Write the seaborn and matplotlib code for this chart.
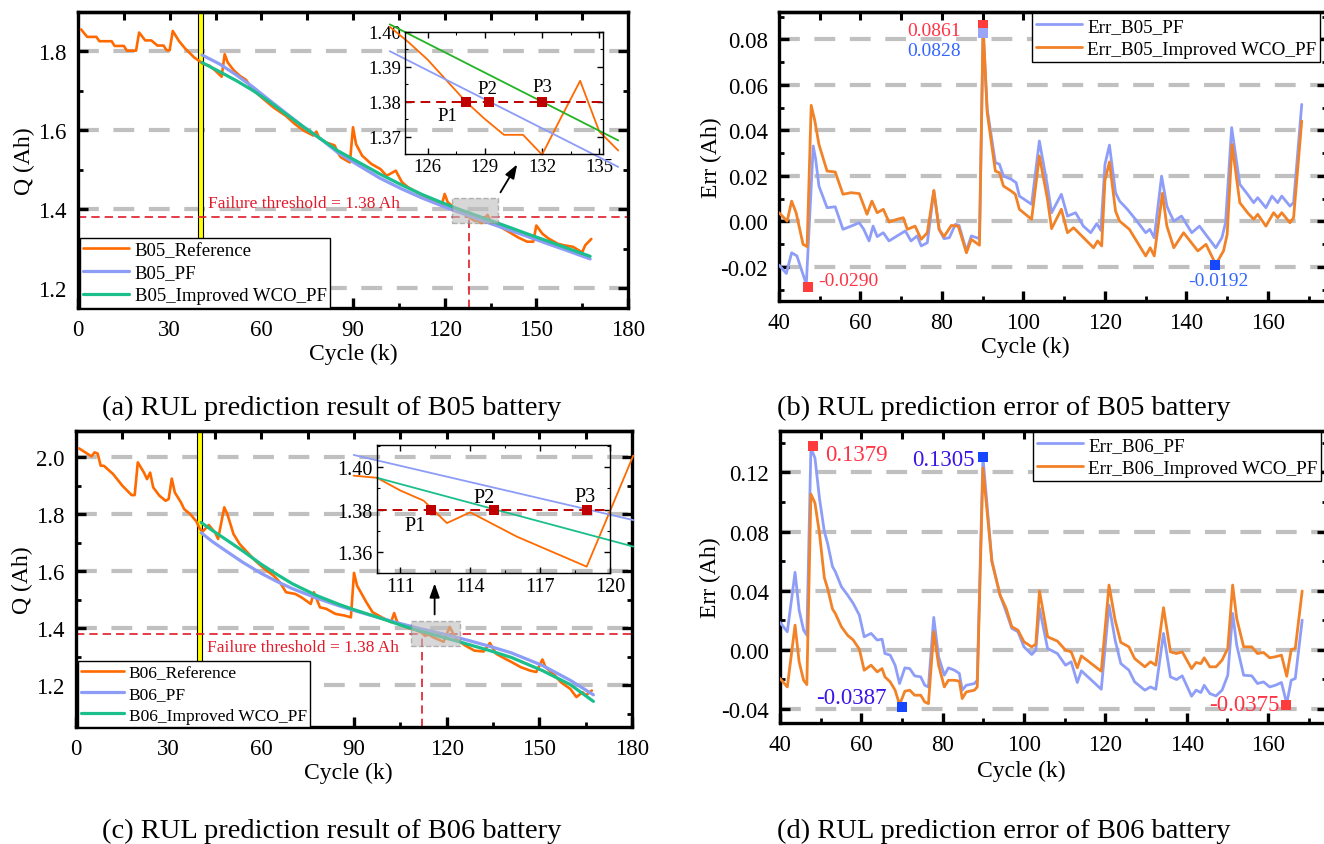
import matplotlib
matplotlib.use("Agg")
import matplotlib.pyplot as plt
import seaborn as sns
import numpy as np
from matplotlib.ticker import MultipleLocator, FormatStrFormatter, NullFormatter
from matplotlib.patches import Rectangle

sns.set_theme(style="white")
plt.rcParams['font.family'] = ['Liberation Serif', 'DejaVu Serif']
plt.rcParams['axes.unicode_minus'] = False
plt.rcParams.update({'text.color': 'black', 'axes.labelcolor': 'black',
                     'xtick.color': 'black', 'ytick.color': 'black'})

# ---------------- data ----------------
FAIL_THRESHOLD = 1.38
PREDICT_START = 40
B05_FAIL_CYCLE = 128
B06_FAIL_CYCLE = 112

# B05 capacity (Ah)
b05_ref_cycle = [1, 3, 6, 7, 11, 12, 15, 16, 19, 20, 22, 24, 26, 28, 29, 30, 31, 33, 35, 38,
                 40, 41, 43, 45, 47, 48, 49, 51, 53, 55, 57, 60, 64, 68, 71, 74, 77, 78, 79, 81,
                 84, 85, 86, 88, 89, 90, 91, 93, 96, 99, 101, 104, 106, 108, 111, 114, 117, 119, 120, 121,
                 123, 124, 125, 126, 127, 128, 129, 130, 131, 132, 133, 134, 135, 136, 139, 141, 144, 147, 149, 150,
                 152, 154, 157, 159, 162, 165, 166, 168]
b05_ref_q = [1.856, 1.837, 1.837, 1.826, 1.826, 1.814, 1.814, 1.802, 1.802, 1.848, 1.828, 1.828, 1.815, 1.815, 1.803, 1.803, 1.852, 1.827, 1.808, 1.785,
             1.774, 1.768, 1.764, 1.751, 1.736, 1.793, 1.772, 1.752, 1.738, 1.728, 1.705, 1.684, 1.658, 1.637, 1.616, 1.599, 1.587, 1.597, 1.580, 1.570,
             1.562, 1.544, 1.532, 1.523, 1.519, 1.608, 1.565, 1.536, 1.515, 1.502, 1.485, 1.498, 1.469, 1.456, 1.443, 1.431, 1.418, 1.410, 1.439, 1.418,
             1.405, 1.4015, 1.397, 1.392, 1.386, 1.380, 1.375, 1.3705, 1.3705, 1.3648, 1.3755, 1.386, 1.3715, 1.366, 1.352, 1.343, 1.329, 1.318, 1.318, 1.359,
             1.338, 1.326, 1.313, 1.309, 1.305, 1.291, 1.309, 1.325]
b05_pf_cycle = [40.6, 46.4, 51.9, 57.4, 62.9, 68.5, 74, 79.5, 85, 91.9, 98.8, 105.6, 112.5, 119.4, 124, 136, 140.1, 147, 153.9, 160.7, 167.6]
b05_pf_q = [1.791, 1.768, 1.740, 1.709, 1.675, 1.641, 1.608, 1.578, 1.544, 1.511, 1.479, 1.453, 1.429, 1.408, 1.3945, 1.3613, 1.3502, 1.3316, 1.3122, 1.2937, 1.2743]
b05_wco_cycle = [40.6, 46.4, 51.9, 57.4, 62.9, 68.5, 74, 79.5, 85, 91.9, 98.8, 105.6, 112.5, 119.4, 124, 136, 140.1, 147, 153.9, 160.7, 167.6]
b05_wco_q = [1.772, 1.7485, 1.7257, 1.7004, 1.6709, 1.6388, 1.6076, 1.5781, 1.5485, 1.519, 1.4895, 1.463, 1.438, 1.416, 1.4022, 1.3689, 1.3575, 1.338, 1.319, 1.300, 1.281]
b05_p_cycles = [128, 129.2, 132]

# B06 capacity (Ah)
b06_ref_cycle = [1, 3, 5, 6, 7, 8, 9, 12, 15, 18, 19, 20, 22, 23, 24, 25, 27, 29, 30, 31,
                 32, 34, 35, 37, 39, 40, 41, 43, 45, 46, 48, 49, 51, 53, 56, 58, 61, 64, 66, 68,
                 71, 73, 76, 77, 79, 81, 84, 87, 89, 90, 91, 94, 96, 99, 102, 103, 104, 107, 109, 110,
                 111, 112, 113, 114, 116, 119, 121, 123, 126, 129, 132, 134, 136, 138, 141, 144, 147, 149, 151, 152,
                 155, 157, 160, 162, 164, 165, 167]
b06_ref_q = [2.032, 2.018, 2.004, 2.018, 2.014, 1.971, 1.971, 1.942, 1.901, 1.868, 1.868, 1.983, 1.947, 1.924, 1.947, 1.895, 1.866, 1.848, 1.854, 1.926,
             1.877, 1.842, 1.819, 1.801, 1.775, 1.751, 1.740, 1.763, 1.737, 1.714, 1.825, 1.801, 1.731, 1.696, 1.661, 1.638, 1.609, 1.585, 1.562, 1.527,
             1.521, 1.509, 1.486, 1.527, 1.474, 1.469, 1.451, 1.445, 1.439, 1.595, 1.550, 1.492, 1.457, 1.439, 1.422, 1.454, 1.422, 1.404, 1.396, 1.395,
             1.389, 1.3842, 1.3736, 1.3787, 1.3672, 1.353, 1.4055, 1.363, 1.340, 1.322, 1.319, 1.349, 1.311, 1.299, 1.282, 1.264, 1.252, 1.247, 1.291, 1.264,
             1.235, 1.211, 1.188, 1.159, 1.176, 1.165, 1.182]
b06_pf_cycle = [40.5, 44, 48, 54, 60, 65, 70, 78, 85, 90, 98, 104, 109, 121, 127, 134, 141, 151, 160, 167.5]
b06_pf_q = [1.736, 1.706, 1.676, 1.632, 1.593, 1.565, 1.540, 1.506, 1.480, 1.463, 1.438, 1.420, 1.4058, 1.375, 1.358, 1.337, 1.314, 1.270, 1.218, 1.167]
b06_wco_cycle = [40.5, 44, 48, 54, 60, 65, 70, 78, 85, 90, 98, 104, 110, 121, 127, 134, 141, 151, 160, 167.5]
b06_wco_q = [1.772, 1.745, 1.716, 1.672, 1.625, 1.590, 1.557, 1.515, 1.485, 1.466, 1.438, 1.416, 1.395, 1.3625, 1.344, 1.322, 1.298, 1.252, 1.203, 1.144]
b06_p_cycles = [112.3, 115, 119]

# B05 prediction errors (Ah)
err_b05_pf_cycle = [40, 41.8, 43.1, 44.4, 46.7, 48.4, 49.0, 49.8, 51.8, 53.8, 55.7, 57.7, 59.7, 60.8, 62.1, 63.1, 64.1, 65.6, 67.0, 69.0,
                    71.0, 72.4, 73.9, 74.9, 76.4, 78.0, 79.3, 80.5, 81.8, 83.3, 84.2, 86.0, 87.2, 89.2, 90.1, 91.1, 93.1, 94.1, 95.1, 97.0,
                    98.2, 99.0, 102.0, 103.9, 105.9, 106.9, 109.3, 110.8, 112.8, 114.7, 116.5, 118.0, 119.0, 120.0, 121.1, 122.6, 123.6, 125.5, 127.5, 130.0,
                    131.0, 132.1, 133.9, 135.2, 135.9, 136.9, 138.8, 141.3, 143.2, 147.2, 148.7, 149.6, 151.1, 153.1, 155.0, 156.5, 157.5, 159.5, 161.0, 162.4,
                    163.4, 165.4, 166.3, 168.3]
err_b05_pf = [-0.0192, -0.0229, -0.0138, -0.0152, -0.0277, 0.0331, 0.0273, 0.0155, 0.0060, 0.0064, -0.0035, -0.0021, -0.0006, -0.0035, -0.0086, -0.0021, -0.0067, -0.0050, -0.0086, -0.0064,
              -0.0042, -0.0086, -0.0064, -0.0108, -0.0094, 0.0133, -0.0035, -0.0076, -0.0072, -0.0013, -0.0018, -0.0130, -0.0064, -0.0076, 0.0837, 0.0492, 0.0258, 0.0251, 0.0199, 0.0185,
              0.0170, 0.0111, 0.0075, 0.0353, 0.0155, 0.0038, 0.0119, 0.0023, 0.0038, -0.0021, -0.0050, -0.0010, -0.0040, 0.0250, 0.0335, 0.0126, 0.0089, 0.0053, 0.0009, -0.0050,
              -0.0035, -0.0072, 0.0199, 0.0067, 0.0038, 0.0001, 0.0023, -0.0050, -0.0021, -0.0116, -0.0072, -0.0006, 0.0412, 0.0163, 0.0119, 0.0082, 0.0104, 0.0060, 0.0111, 0.0082,
              0.0111, 0.0067, 0.0082, 0.0514]
err_b05_wco_cycle = [40, 42.0, 43.1, 44.2, 45.9, 46.9, 47.9, 48.8, 49.8, 51.8, 53.8, 55.7, 57.7, 59.7, 61.6, 62.8, 64.1, 65.6, 67.0, 69.0,
                     70.5, 71.5, 73.4, 74.9, 76.4, 78.0, 79.3, 80.5, 82.3, 84.0, 86.0, 87.2, 89.2, 90.1, 91.1, 93.1, 94.1, 95.1, 97.0, 98.0,
                     99.0, 102.0, 103.9, 105.9, 106.9, 109.3, 110.8, 112.3, 117.2, 118.2, 119.2, 120.0, 121.1, 122.6, 123.6, 126.0, 130.0, 131.1, 132.1, 134.1,
                     135.2, 136.9, 139.3, 142.8, 144.8, 147.2, 149.1, 150.0, 151.2, 153.1, 155.0, 156.5, 157.5, 159.5, 161.4, 162.4, 163.4, 165.4, 166.3, 168.3]
err_b05_wco = [0.0038, 0.0001, 0.0089, 0.0038, -0.0101, -0.0111, 0.0510, 0.0441, 0.0338, 0.0221, 0.0217, 0.0119, 0.0126, 0.0122, 0.0031, 0.0089, 0.0038, 0.0053, -0.0003, 0.0009,
               0.0016, -0.0035, -0.0021, -0.0079, -0.0050, 0.0136, -0.0035, -0.0067, -0.0018, -0.0021, -0.0138, -0.0079, -0.0105, 0.0859, 0.0478, 0.0221, 0.0214, 0.0155, 0.0133, 0.0119,
               0.0053, 0.0009, 0.0287, 0.0097, -0.0032, 0.0053, -0.0050, -0.0028, -0.0116, -0.0086, -0.0108, 0.0180, 0.0261, 0.0045, 0.0001, -0.0035, -0.0152, -0.0116, -0.0152, 0.0123,
               -0.0021, -0.0116, -0.0050, -0.0130, -0.0101, -0.0189, -0.0130, -0.0057, 0.0338, 0.0082, 0.0038, 0.0009, 0.0031, -0.0021, 0.0038, 0.0016, 0.0038, -0.0006, 0.0016, 0.0441]

# B06 prediction errors (Ah)
err_b06_cycle = [40, 41.8, 43.7, 44.7, 45.8, 46.6, 47.6, 48.6, 49.7, 50.9, 51.7, 52.9, 53.6, 55.1, 56.6, 58, 59.5, 60.7, 62.4, 63.9,
                 65.1, 65.8, 67.1, 68.3, 69.4, 70.7, 71.9, 73.1, 74.6, 75.6, 76.5, 77.8, 79, 80.4, 81.4, 82.9, 84.1, 84.8, 85.8, 87.8,
                 88.5, 89.9, 92.1, 94.1, 95.6, 97, 98.5, 100, 101.9, 102.9, 103.8, 105.8, 108.2, 110.2, 111.6, 113.1, 114.1, 119, 120.9, 122.4,
                 123.8, 125.8, 127.2, 129.7, 131.1, 132.4, 134.3, 136, 137.5, 138.9, 141.2, 142.3, 143.5, 144.3, 145.7, 147.2, 148.7, 150.1, 151.3, 152.3,
                 154, 156, 157.4, 158.9, 160.4, 161.8, 163.3, 164.6, 165.7, 166.7, 168.4]
err_b06_pf = [0.0185, 0.0122, 0.0524, 0.0269, 0.0133, 0.0099, 0.1365, 0.1297, 0.1026, 0.0800, 0.0721, 0.0563, 0.0529, 0.0427, 0.0371, 0.0314, 0.0235, 0.0088, 0.0111, 0.0066,
              0.0072, -0.0025, -0.0036, -0.0104, -0.0228, -0.0122, -0.0127, -0.0176, -0.0183, -0.0240, -0.0251, 0.0219, -0.0047, -0.0172, -0.0122, -0.0138, -0.0160, -0.0273, -0.0240, -0.0228,
              -0.0206, 0.1302, 0.0601, 0.0371, 0.0258, 0.0145, 0.0122, 0.0020, -0.0032, -0.0002, 0.0280, 0.0009, -0.0025, -0.0104, -0.0081, -0.0221, -0.0142, -0.0267, 0.0303, 0.0066,
              -0.0093, -0.0138, -0.0217, -0.0273, -0.0251, -0.0267, 0.0111, -0.0183, -0.0201, -0.0176, -0.0314, -0.0273, -0.0289, -0.0240, -0.0296, -0.0312, -0.0273, -0.0172, 0.0246, 0.0032,
              -0.0172, -0.0176, -0.0228, -0.0217, -0.0251, -0.0240, -0.0221, -0.0364, -0.0206, -0.0194, 0.0201]
err_b06_wco = [-0.0194, -0.0251, 0.0167, -0.0081, -0.0206, -0.0235, 0.1053, 0.0992, 0.0789, 0.0488, 0.0416, 0.0276, 0.0246, 0.0156, 0.0099, 0.0066, 0.0005, -0.0138, -0.0104, -0.0149,
               -0.0127, -0.0183, -0.0217, -0.0273, -0.0371, -0.0280, -0.0273, -0.0307, -0.0307, -0.0353, -0.0364, 0.0122, -0.0104, -0.0251, -0.0206, -0.0206, -0.0212, -0.0330, -0.0285, -0.0273,
               -0.0251, 0.1229, 0.0597, 0.0371, 0.0280, 0.0156, 0.0133, 0.0054, 0.0020, 0.0038, 0.0398, 0.0088, 0.0059, -0.0002, -0.0014, -0.0122, -0.0041, -0.0145, 0.0438, 0.0201,
               0.0050, 0.0020, -0.0059, -0.0115, -0.0081, -0.0104, 0.0285, -0.0014, -0.0025, -0.0014, -0.0127, -0.0086, -0.0093, -0.0054, -0.0115, -0.0115, -0.0070, 0.0009, 0.0438, 0.0212,
               0.0020, 0.0020, -0.0025, -0.0018, -0.0054, -0.0047, -0.0036, -0.0179, 0.0002, 0.0009, 0.0398]

# extreme-value annotations: (cycle, value, label)
b05_marks = [(90, 0.0861, '0.0861'), (90, 0.0828, '0.0828'), (47, -0.0290, '-0.0290'), (147, -0.0192, '-0.0192')]
b06_marks = [(48, 0.1379, '0.1379'), (90, 0.1305, '0.1305'), (70, -0.0387, '-0.0387'), (164.4, -0.0375, '-0.0375')]

# ---------------- style ----------------
REF_ORANGE = '#FF6A00'
PF_BLUE = '#8C9CF7'
WCO_GREEN = '#1ABF8C'
INSET_GREEN = '#22B422'
ERR_BLUE = '#8E9EF8'
ERR_ORANGE = '#F28227'
THRESH_RED = '#E31A2A'
P_RED = '#C00000'
MARK_RED = '#FF3B3B'
MARK_BLUE = '#1746FF'
MARK_LAV = '#9AA6F5'
TEXT_RED = '#FF3344'
TEXT_BLUE = '#3366FF'
TEXT_VIOLET = '#3A14E8'
GRID = '#C0C0C0'

W, H = 1324, 845
fig = plt.figure(figsize=(W / 100, H / 100), dpi=100)


def px_axes(l, t, r, b):
    return fig.add_axes([l / W, 1 - b / H, (r - l) / W, (b - t) / H])


def style_main(ax, xmaj, xmin, ymaj, ymin, yfmt, top_step):
    for sp in ax.spines.values():
        sp.set_visible(True)
        sp.set_linewidth(2.4)
        sp.set_color('black')
    ax.xaxis.set_major_locator(MultipleLocator(xmaj))
    ax.xaxis.set_minor_locator(MultipleLocator(xmin))
    ax.yaxis.set_major_locator(MultipleLocator(ymaj))
    ax.yaxis.set_minor_locator(MultipleLocator(ymin))
    ax.yaxis.set_major_formatter(FormatStrFormatter(yfmt))
    ax.tick_params(which='major', direction='in', length=7, width=2.4, labelsize=16.5, pad=8,
                   top=False, right=True, bottom=True, left=True)
    ax.tick_params(which='minor', direction='in', length=3.5, width=2.0,
                   top=False, right=True, bottom=True, left=True)
    ax.grid(False)
    ax.yaxis.grid(True, which='major', color=GRID, linewidth=3, linestyle=(0, (5, 3.5)))
    ax.set_axisbelow(True)
    sec = ax.secondary_xaxis('top')
    sec.xaxis.set_major_locator(MultipleLocator(top_step))
    sec.xaxis.set_major_formatter(NullFormatter())
    sec.tick_params(direction='in', length=6, width=2.2)
    sec.spines['top'].set_linewidth(2.4)


def style_inset(ax, xmaj, xmin, ymaj, ymin, yfmt, fs):
    ax.patch.set_alpha(0)
    for sp in ax.spines.values():
        sp.set_visible(True)
        sp.set_linewidth(1.0)
        sp.set_color('black')
    ax.xaxis.set_major_locator(MultipleLocator(xmaj))
    ax.xaxis.set_minor_locator(MultipleLocator(xmin))
    ax.yaxis.set_major_locator(MultipleLocator(ymaj))
    ax.yaxis.set_minor_locator(MultipleLocator(ymin))
    ax.yaxis.set_major_formatter(FormatStrFormatter(yfmt))
    ax.tick_params(which='major', direction='in', length=4, width=1, labelsize=fs, pad=3,
                   top=True, right=True, bottom=True, left=True)
    ax.tick_params(which='minor', direction='in', length=2, width=0.8,
                   top=True, right=True, bottom=True, left=True)
    ax.grid(False)


def legend(ax, loc, fs, anchor, hl=2.45):
    leg = ax.legend(loc=loc, bbox_to_anchor=anchor, borderaxespad=0.0, frameon=True, fancybox=False,
                    edgecolor='black', framealpha=1, prop={'size': fs}, handlelength=hl,
                    handletextpad=0.28, labelspacing=0.3, borderpad=0.2)
    leg.get_frame().set_linewidth(1.0)
    return leg


def sel(xs, ys, lo, hi):
    xs = np.asarray(xs, float)
    ys = np.asarray(ys, float)
    m = (xs >= lo) & (xs <= hi)
    return xs[m], ys[m]


def capacity_panel(box, name, ref_c, ref_q, pf_c, pf_q, wco_c, wco_q, ylim, fail_cycle,
                   text_y, rect, arrow, inset_box, inset_xlim, inset_ylim, inset_range,
                   inset_ticks, inset_fs, inset_green, p_cycles, p_offsets, leg_fs, xlab_x, xlab_y, ylab_x):
    ax = px_axes(*box)
    sns.lineplot(x=ref_c, y=ref_q, ax=ax, color=REF_ORANGE, lw=1.9, label=f'{name}_Reference',
                 estimator=None, sort=False, zorder=3)
    sns.lineplot(x=pf_c, y=pf_q, ax=ax, color=PF_BLUE, lw=2.3, label=f'{name}_PF',
                 estimator=None, sort=False, zorder=3.1)
    sns.lineplot(x=wco_c, y=wco_q, ax=ax, color=WCO_GREEN, lw=2.3, label=f'{name}_Improved WCO_PF',
                 estimator=None, sort=False, zorder=3.2)
    ax.set_xlim(0, 180)
    ax.set_ylim(*ylim)
    style_main(ax, 30, 15, 0.2, 0.1, '%.1f', 15)
    ax.axvspan(PREDICT_START - 0.8, PREDICT_START + 0.8, facecolor='#FFFF00', edgecolor='black',
               lw=0.8, zorder=1.5)
    ax.axhline(FAIL_THRESHOLD, color=THRESH_RED, lw=1.2, ls=(0, (5, 3)), zorder=2.5)
    ax.vlines(fail_cycle, ylim[0], FAIL_THRESHOLD, color=THRESH_RED, lw=1.2, ls=(0, (5, 3)), zorder=2.5)
    ax.text(42.5, text_y, f'Failure threshold = {FAIL_THRESHOLD} Ah', color=THRESH_RED,
            fontsize=12.5, va='center', ha='left', zorder=4)
    ax.add_patch(Rectangle((rect[0], rect[1]), rect[2], rect[3], facecolor='#BDBDBD', alpha=0.6,
                           edgecolor='#8A8A8A', ls='--', lw=1.0, zorder=4))
    ax.annotate('', xy=arrow[1], xytext=arrow[0],
                arrowprops=dict(arrowstyle='-|>,head_width=0.25,head_length=0.7', color='black', lw=1.3),
                zorder=5)
    legend(ax, 'lower left', leg_fs, (0.003, 0.0))
    ax.set_xlabel('Cycle (k)', fontsize=17)
    ax.set_ylabel('Q (Ah)', fontsize=17)
    ax.xaxis.label.set_va('center')
    ax.yaxis.label.set_va('center')
    ax.xaxis.set_label_coords(xlab_x, xlab_y)
    ax.yaxis.set_label_coords(ylab_x, 0.5)

    ins = px_axes(*inset_box)
    lo, hi = inset_range
    for cs, qs, col in [(ref_c, ref_q, REF_ORANGE), (pf_c, pf_q, PF_BLUE), (wco_c, wco_q, inset_green)]:
        xs, ys = sel(cs, qs, lo, hi)
        sns.lineplot(x=xs, y=ys, ax=ins, color=col, lw=1.3, estimator=None, sort=False,
                     legend=False, clip_on=False)
    ins.axhline(FAIL_THRESHOLD, color=P_RED, lw=1.4, ls=(0, (5, 3)))
    sns.scatterplot(x=p_cycles, y=[FAIL_THRESHOLD] * len(p_cycles), ax=ins, marker='s', s=55,
                    color=P_RED, linewidth=0, zorder=6, legend=False, clip_on=False)
    for i, (pc, off) in enumerate(zip(p_cycles, p_offsets)):
        ins.annotate(f'P{i + 1}', xy=(pc, FAIL_THRESHOLD), xytext=off, textcoords='offset points',
                     ha='center', va='center', fontsize=inset_fs)
    ins.set_xlim(*inset_xlim)
    ins.set_ylim(*inset_ylim)
    style_inset(ins, inset_ticks[0], inset_ticks[1], inset_ticks[2], inset_ticks[3], '%.2f', inset_fs)
    ins.set_xlabel('')
    ins.set_ylabel('')
    return ax


def error_panel(box, name, c_pf, e_pf, c_wco, e_wco, ylim, ymaj, ymin, marks, mark_styles,
                mark_size, text_fs, leg_left, xlab_x, xlab_y, ylab_x):
    ax = px_axes(*box)
    sns.lineplot(x=c_pf, y=e_pf, ax=ax, color=ERR_BLUE, lw=2.0, label=f'Err_{name}_PF',
                 estimator=None, sort=False, zorder=3)
    sns.lineplot(x=c_wco, y=e_wco, ax=ax, color=ERR_ORANGE, lw=2.0, label=f'Err_{name}_Improved WCO_PF',
                 estimator=None, sort=False, zorder=3.1)
    ax.set_xlim(40, 174.5)
    ax.set_ylim(*ylim)
    style_main(ax, 20, 10, ymaj, ymin, '%.2f', 10)
    for (mc, mv, lab), (mcol, tcol, tx, ty, ha) in zip(marks, mark_styles):
        ax.scatter([mc], [mv], marker='s', s=mark_size, color=mcol, linewidths=0, zorder=6, clip_on=False)
        ax.text(tx, ty, lab, color=tcol, fontsize=text_fs, ha=ha, va='center', zorder=6)
    legend(ax, 'upper left', 13.8, (leg_left, 0.995), hl=2.4)
    ax.set_xlabel('Cycle (k)', fontsize=17)
    ax.set_ylabel('Err (Ah)', fontsize=17)
    ax.xaxis.label.set_va('center')
    ax.yaxis.label.set_va('center')
    ax.xaxis.set_label_coords(xlab_x, xlab_y)
    ax.yaxis.set_label_coords(ylab_x, 0.5)
    return ax


# (a)
capacity_panel((78, 13, 628, 309), 'B05', b05_ref_cycle, b05_ref_q, b05_pf_cycle, b05_pf_q,
               b05_wco_cycle, b05_wco_q, (1.15, 1.9), B05_FAIL_CYCLE, 1.417,
               (122.5, 1.3646, 14.9, 0.063), ((137.8, 1.437), (144.2, 1.52)),
               (405, 33, 603, 155), (124.8, 135.2), (1.365, 1.40), (123.5, 136.5),
               (3, 1.5, 0.01, 0.005), 13.5, INSET_GREEN, b05_p_cycles,
               [(-13.5, -10), (-1, 9.5), (0, 10.8)], 13.5, 0.5, -0.155, -0.098)

# (b)
error_panel((779, 13, 1327, 302), 'B05', err_b05_pf_cycle, err_b05_pf, err_b05_wco_cycle, err_b05_wco,
            (-0.035, 0.092), 0.02, 0.01, b05_marks,
            [(MARK_RED, TEXT_RED, 84.7, 0.0838, 'right'),
             (MARK_LAV, TEXT_BLUE, 84.7, 0.0753, 'right'),
             (MARK_RED, TEXT_RED, 49.6, -0.0259, 'left'),
             (MARK_BLUE, TEXT_BLUE, 147.9, -0.0259, 'center')],
            42, 14, (1032 - 779) / 548, 0.449, -0.156, -0.124)

# (c)
capacity_panel((76, 432, 632, 728), 'B06', b06_ref_cycle, b06_ref_q, b06_pf_cycle, b06_pf_q,
               b06_wco_cycle, b06_wco_q, (1.054, 2.093), B06_FAIL_CYCLE, 1.3364,
               (108.6, 1.3376, 15.6, 0.09), ((116.1, 1.4393), (116.1, 1.5678)),
               (377, 446, 610, 574), (110, 120), (1.35, 1.4105), (109, 121.5),
               (3, 1.5, 0.02, 0.01), 14.5, WCO_GREEN, b06_p_cycles,
               [(-11.5, -11.5), (-7, 8.5), (-1.5, 9.6)], 12.5, 0.49, -0.152, -0.097)

# (d)
error_panel((780, 432, 1327, 724), 'B06', err_b06_cycle, err_b06_pf, err_b06_cycle, err_b06_wco,
            (-0.0495, 0.148), 0.04, 0.02, b06_marks,
            [(MARK_RED, TEXT_RED, 51.2, 0.132, 'left'),
             (MARK_BLUE, TEXT_VIOLET, 87.8, 0.1286, 'right'),
             (MARK_BLUE, TEXT_VIOLET, 66.1, -0.0325, 'right'),
             (MARK_RED, TEXT_RED, 162.8, -0.037, 'right')],
            52, 16.5, (1033 - 780) / 547, 0.442, -0.164, -0.128)

# captions
for (cx, cy, txt) in [(332, 408, '(a) RUL prediction result of B05 battery'),
                      (1004, 408, '(b) RUL prediction error of B05 battery'),
                      (332, 831, '(c) RUL prediction result of B06 battery'),
                      (1004, 831, '(d) RUL prediction error of B06 battery')]:
    fig.text(cx / W, 1 - cy / H, txt, ha='center', va='center', fontsize=20.5)

fig.savefig('out.png', dpi=100)
